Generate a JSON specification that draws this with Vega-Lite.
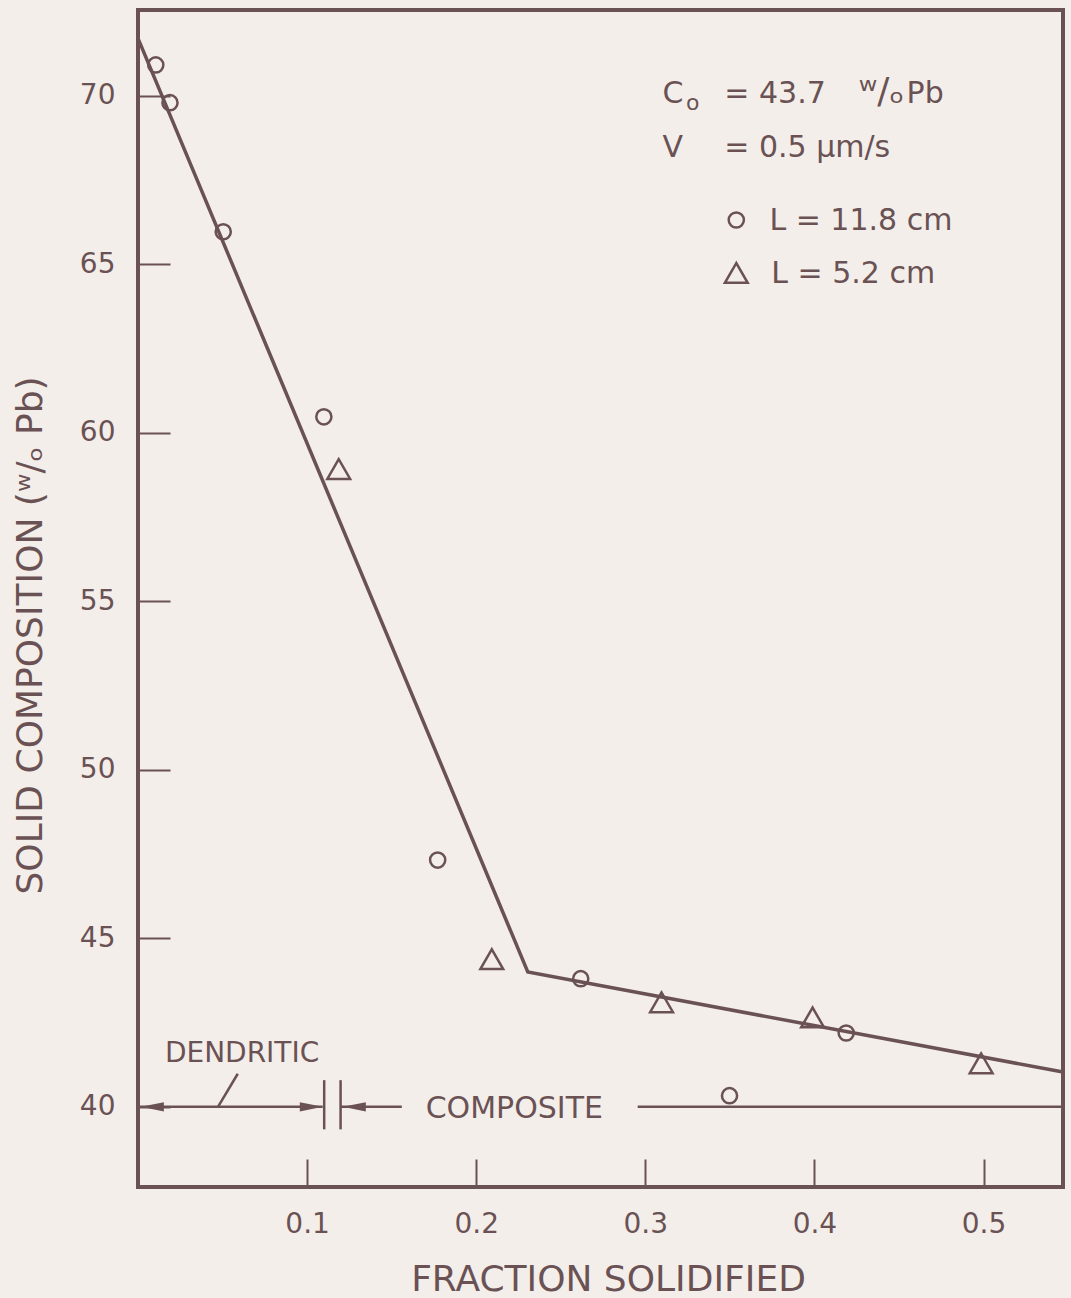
{
  "$schema": "https://vega.github.io/schema/vega-lite/v6.json",
  "width": 925,
  "height": 1177,
  "autosize": {"type": "none"},
  "padding": {"left": 138, "top": 10, "right": 8, "bottom": 111},
  "background": "#f4eeea",
  "config": {
    "view": {"stroke": "#6a5254", "strokeWidth": 4, "fill": null},
    "font": "DejaVu Sans",
    "axis": {
      "domain": false,
      "grid": false,
      "tickColor": "#6a5254",
      "tickWidth": 2,
      "labelColor": "#6a5254",
      "titleColor": "#6a5254",
      "labelFont": "DejaVu Sans",
      "titleFont": "DejaVu Sans",
      "labelFontWeight": "normal",
      "titleFontWeight": "normal"
    }
  },
  "datasets": {
    "obs": [
      {"f": 0.0105, "c": 70.91, "series": "L = 11.8 cm"},
      {"f": 0.0189, "c": 69.79, "series": "L = 11.8 cm"},
      {"f": 0.0504, "c": 65.96, "series": "L = 11.8 cm"},
      {"f": 0.1099, "c": 60.47, "series": "L = 11.8 cm"},
      {"f": 0.1772, "c": 47.32, "series": "L = 11.8 cm"},
      {"f": 0.2618, "c": 43.80, "series": "L = 11.8 cm"},
      {"f": 0.3498, "c": 40.33, "series": "L = 11.8 cm"},
      {"f": 0.4188, "c": 42.19, "series": "L = 11.8 cm"},
      {"f": 0.1187, "c": 58.92, "series": "L = 5.2 cm"},
      {"f": 0.2092, "c": 44.38, "series": "L = 5.2 cm"},
      {"f": 0.3096, "c": 43.10, "series": "L = 5.2 cm"},
      {"f": 0.3989, "c": 42.65, "series": "L = 5.2 cm"},
      {"f": 0.4986, "c": 41.29, "series": "L = 5.2 cm"}
    ],
    "key": [
      {"f": 0.3538, "c": 66.31, "series": "L = 11.8 cm"},
      {"f": 0.3538, "c": 64.74, "series": "L = 5.2 cm"}
    ],
    "fit": [
      {"f": 0.0, "c": 71.7},
      {"f": 0.2305, "c": 44.0},
      {"f": 0.547, "c": 41.03}
    ],
    "segments": [
      {"f": 0.0, "f2": 0.1092, "c": 40.0, "c2": 40.0},
      {"f": 0.1198, "f2": 0.156, "c": 40.0, "c2": 40.0},
      {"f": 0.2955, "f2": 0.547, "c": 40.0, "c2": 40.0},
      {"f": 0.0473, "f2": 0.0590, "c": 40.0, "c2": 40.98},
      {"f": 0.1101, "f2": 0.1101, "c": 39.33, "c2": 40.79},
      {"f": 0.1198, "f2": 0.1198, "c": 39.33, "c2": 40.79}
    ],
    "arrows": [
      {"f": 0.0085, "c": 40.0, "dir": "left"},
      {"f": 0.1025, "c": 40.0, "dir": "right"},
      {"f": 0.1279, "c": 40.0, "dir": "left"}
    ],
    "labels": [
      {"f": 0.3102, "c": 69.78, "text": "C", "g": "big"},
      {"f": 0.3240, "c": 69.58, "text": "o", "g": "sub"},
      {"f": 0.3467, "c": 69.78, "text": "= 43.7", "g": "big"},
      {"f": 0.4262, "c": 69.78, "text": "ʷ/ₒ", "g": "wo"},
      {"f": 0.4545, "c": 69.78, "text": "Pb", "g": "big"},
      {"f": 0.3102, "c": 68.18, "text": "V", "g": "big"},
      {"f": 0.3467, "c": 68.18, "text": "= 0.5 μm/s", "g": "big"},
      {"f": 0.3734, "c": 66.01, "text": "L = 11.8 cm", "g": "big"},
      {"f": 0.3745, "c": 64.44, "text": "L = 5.2 cm", "g": "big"},
      {"f": 0.0159, "c": 41.34, "text": "DENDRITIC", "g": "ann"},
      {"f": 0.1701, "c": 39.66, "text": "COMPOSITE", "g": "big"}
    ]
  },
  "encoding": {
    "x": {
      "field": "f",
      "type": "quantitative",
      "scale": {"domain": [0, 0.547], "nice": false, "zero": false},
      "axis": {
        "title": "FRACTION  SOLIDIFIED",
        "values": [0.1, 0.2, 0.3, 0.4, 0.5],
        "format": ".1f",
        "tickSize": -28,
        "labelPadding": 51,
        "labelFontSize": 28,
        "titleFontSize": 36,
        "titleBaseline": "alphabetic",
        "titleX": 470,
        "titleY": 103
      }
    },
    "y": {
      "field": "c",
      "type": "quantitative",
      "scale": {"domain": [37.62, 72.54], "nice": false, "zero": false},
      "axis": {
        "title": "SOLID COMPOSITION (ʷ/ₒ Pb)",
        "values": [40, 45, 50, 55, 60, 65, 70],
        "tickSize": -32,
        "labelPadding": 55,
        "labelFontSize": 28,
        "titleFontSize": 36,
        "titleBaseline": "alphabetic",
        "titleX": -97,
        "titleY": 625
      }
    }
  },
  "layer": [
    {
      "data": {"name": "fit"},
      "mark": {"type": "line", "color": "#6a5254", "strokeWidth": 3.5},
      "encoding": {}
    },
    {
      "data": {"name": "segments"},
      "mark": {"type": "rule", "color": "#6a5254", "strokeWidth": 2.5},
      "encoding": {
        "x2": {"field": "f2"},
        "y2": {"field": "c2"}
      }
    },
    {
      "data": {"name": "arrows"},
      "transform": [{"filter": "datum.dir === 'left'"}],
      "mark": {"type": "point", "shape": "M-1,0L1,-0.4L1,0.4Z", "size": 529, "filled": true, "color": "#6a5254", "opacity": 1},
      "encoding": {}
    },
    {
      "data": {"name": "arrows"},
      "transform": [{"filter": "datum.dir === 'right'"}],
      "mark": {"type": "point", "shape": "M1,0L-1,-0.4L-1,0.4Z", "size": 529, "filled": true, "color": "#6a5254", "opacity": 1},
      "encoding": {}
    },
    {
      "data": {"name": "obs"},
      "mark": {"type": "point", "filled": false, "color": "#6a5254", "strokeWidth": 2.5, "opacity": 1},
      "encoding": {
        "shape": {"field": "series", "type": "nominal", "scale": {"domain": ["L = 11.8 cm", "L = 5.2 cm"], "range": ["circle", "triangle-up"]}, "legend": null},
        "size": {"field": "series", "type": "nominal", "scale": {"domain": ["L = 11.8 cm", "L = 5.2 cm"], "range": [230, 520]}, "legend": null}
      }
    },
    {
      "data": {"name": "key"},
      "mark": {"type": "point", "filled": false, "color": "#6a5254", "strokeWidth": 2.5, "opacity": 1},
      "encoding": {
        "shape": {"field": "series", "type": "nominal", "legend": null},
        "size": {"field": "series", "type": "nominal", "legend": null}
      }
    },
    {
      "data": {"name": "labels"},
      "transform": [{"filter": "datum.g === 'big'"}],
      "mark": {"type": "text", "align": "left", "baseline": "alphabetic", "fontSize": 30, "color": "#6a5254", "font": "DejaVu Sans"},
      "encoding": {"text": {"field": "text"}}
    },
    {
      "data": {"name": "labels"},
      "transform": [{"filter": "datum.g === 'wo'"}],
      "mark": {"type": "text", "align": "left", "baseline": "alphabetic", "fontSize": 36, "color": "#6a5254", "font": "DejaVu Sans"},
      "encoding": {"text": {"field": "text"}}
    },
    {
      "data": {"name": "labels"},
      "transform": [{"filter": "datum.g === 'sub'"}],
      "mark": {"type": "text", "align": "left", "baseline": "alphabetic", "fontSize": 22, "color": "#6a5254", "font": "DejaVu Sans"},
      "encoding": {"text": {"field": "text"}}
    },
    {
      "data": {"name": "labels"},
      "transform": [{"filter": "datum.g === 'ann'"}],
      "mark": {"type": "text", "align": "left", "baseline": "alphabetic", "fontSize": 28, "color": "#6a5254", "font": "DejaVu Sans"},
      "encoding": {"text": {"field": "text"}}
    }
  ]
}
